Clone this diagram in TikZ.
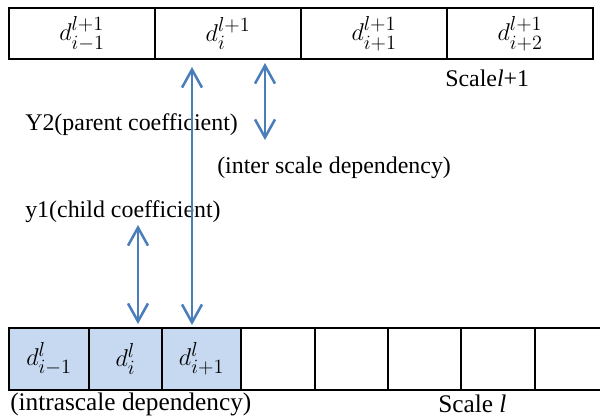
\documentclass[tikz,border=0pt]{standalone}
\usepackage{fontspec}
\setmainfont{Liberation Serif}
\usepackage{amsmath}
\usetikzlibrary{arrows.meta,positioning}
\definecolor{depblue}{HTML}{4A7EBB}
\definecolor{cellblue}{HTML}{C6D9F1}

\begin{document}
\begin{tikzpicture}[x=0.025cm,y=-0.025cm,font=\fontsize{17}{20}\selectfont,
    cell/.style={draw,line width=1.8pt,inner sep=0pt,outer sep=0pt,anchor=west,
      font=\fontsize{19}{22}\selectfont},
    topcell/.style={cell,minimum width=3.65cm,minimum height=1.275cm},
    botcell/.style={cell,minimum height=1.55cm},
    dep/.style={{Straight Barb[length=4.5mm,width=5mm]}-{Straight Barb[length=4.5mm,width=5mm]},depblue,line width=1.8pt},
    lbl/.style={anchor=west,inner sep=0pt}]
  \useasboundingbox (0,0) rectangle (600,417);

  % scale l+1
  \node[topcell] (ta) at (9,33.5) {$d^{l+1}_{i-1}$};
  \node[topcell,right=0pt of ta] (tb) {$d^{l+1}_{i}$};
  \node[topcell,right=0pt of tb] (tc) {$d^{l+1}_{i+1}$};
  \node[topcell,right=0pt of tc] (td) {$d^{l+1}_{i+2}$};

  % scale l
  \node[botcell,fill=cellblue,minimum width=2cm] (ba) at (9,359) {$d^{l}_{i-1}$};
  \node[botcell,fill=cellblue,minimum width=1.825cm,right=0pt of ba] (bb) {$d^{l}_{i}$};
  \node[botcell,fill=cellblue,minimum width=1.975cm,right=0pt of bb] (bc) {$d^{l}_{i+1}$};
  \foreach \w/\a/\b in {1.85/bc/b4,1.825/b4/b5,1.825/b5/b6,1.85/b6/b7,1.85/b7/b8}
    \node[botcell,minimum width=\w cm,right=0pt of \a] (\b) {};

  % labels
  \node[lbl] (scup) at (445,78) {Scale\textit{l}+1};
  \node[lbl] (par) at (25,125) {Y2(parent coefficient)};
  \node[lbl] (inter) at (217,168) {(inter scale dependency)};
  \node[lbl] (chi) at (25,212) {y1(child coefficient)};
  \node[lbl,font=\fontsize{18}{21}\selectfont] (intra) at (10,404) {(intrascale dependency)};
  \node[lbl,font=\fontsize{18}{21}\selectfont] (scdn) at (438,404) {Scale \textit{l}};

  % arrow ends
  \coordinate (pa) at (192,67);
  \coordinate (pb) at (192,325);
  \coordinate (ia) at (265,63);
  \coordinate (ib) at (265,140);
  \coordinate (ca) at (138,225);
  \coordinate (cb) at (138,324);

  \draw[dep] (pa) -- (pb);
  \draw[dep] (ia) -- (ib);
  \draw[dep] (ca) -- (cb);
\end{tikzpicture}
\end{document}
